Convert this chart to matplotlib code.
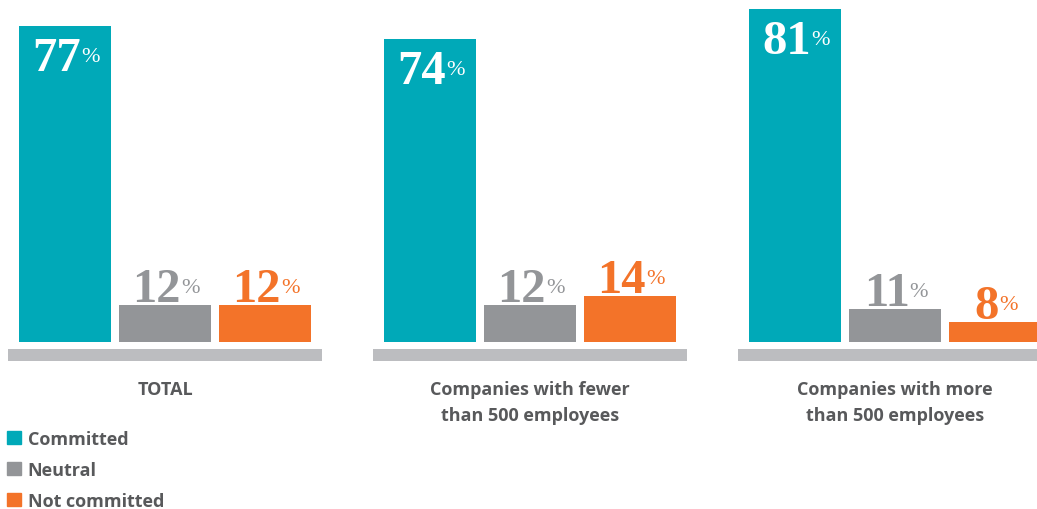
import matplotlib.pyplot as plt
from matplotlib.patches import Patch
import matplotlib.transforms as mtransforms

# data
groups = ["TOTAL", "Companies with fewer\nthan 500 employees", "Companies with more\nthan 500 employees"]
series = ["Committed", "Neutral", "Not committed"]
committed = [77, 74, 81]
neutral = [12, 12, 11]
not_committed = [12, 14, 8]

colors = ["#00A9B8", "#939598", "#F37329"]
label_colors = ["white", "#939598", "#F37329"]
text_gray = "#58595B"

fig = plt.figure(figsize=(10.37, 5.10), dpi=100)
W, H = 1037, 510

# main bar area: bottom of bars at y=343px, the value axis starts a bit above zero
ax = fig.add_axes([0, (H - 343) / H, 1, 343 / H])
step = 100 / 365
width = 92 / 365
ax.set_xlim(-165 / 365, (W - 165) / 365)
ax.set_ylim(3.34, 83.33)
ax.axis("off")

vals = [committed, neutral, not_committed]
for j, s in enumerate(series):
    xs = [i + (j - 1) * step for i in range(len(groups))]
    ax.bar(xs, vals[j], width=width, color=colors[j], label=s)
    for x, v in zip(xs, vals[j]):
        if j == 0:
            num = ax.annotate(str(v), xy=(x, v), xytext=(-6, -7), textcoords="offset points",
                              ha="center", va="top", fontsize=35, fontweight="bold",
                              family="Liberation Serif", color=label_colors[j])
        else:
            num = ax.annotate(str(v), xy=(x, v), xytext=(-6, 3), textcoords="offset points",
                              ha="center", va="baseline", fontsize=35, fontweight="bold",
                              family="Liberation Serif", color=label_colors[j])
        ax.annotate("%", xy=(1, 0), xycoords=num, xytext=(0, 10), textcoords="offset points",
                    ha="left", va="bottom", fontsize=16, family="Liberation Serif",
                    color=label_colors[j])

# grey base strip under each group
axb = fig.add_axes([0, (H - 362) / H, 1, 12 / H])
axb.set_xlim(ax.get_xlim())
axb.set_ylim(0, 1)
axb.bar(range(len(groups)), [1] * len(groups), width=314 / 365, color="#BCBDC0")
axb.axis("off")

# group labels
trans = mtransforms.blended_transform_factory(ax.transData, fig.transFigure)
for i, g in enumerate(groups):
    ax.text(i, (H - 381) / H, g, transform=trans, ha="center", va="top",
            fontsize=13, fontweight="bold", family="Open Sans", color=text_gray,
            linespacing=1.6)

handles = [Patch(color=c, label=s) for c, s in zip(colors, series)]
leg = fig.legend(handles=handles, loc="upper left", bbox_to_anchor=(7 / W, (H - 431) / H),
                 frameon=False, handlelength=0.75, handleheight=0.75, handletextpad=0.4,
                 labelspacing=0.72, borderpad=0, borderaxespad=0,
                 prop={"family": "Open Sans", "weight": "bold", "size": 13})
for t in leg.get_texts():
    t.set_color(text_gray)

fig.savefig("out.png", dpi=100)
